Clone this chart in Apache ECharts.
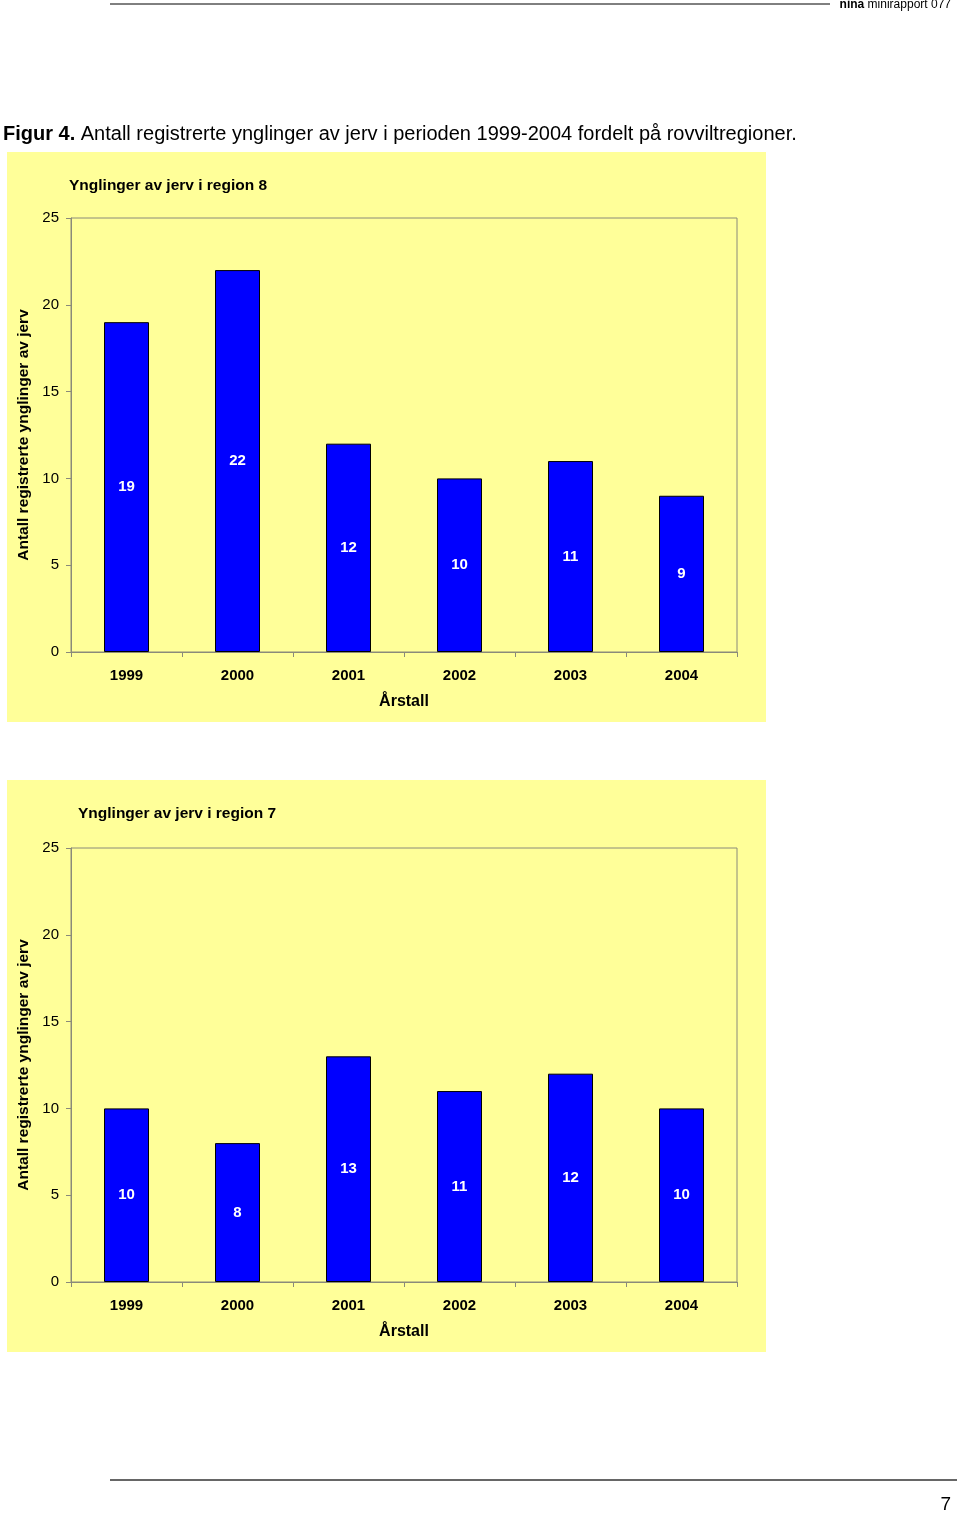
<!DOCTYPE html>
<html>
<head>
<meta charset="utf-8">
<script src="https://cdn.jsdelivr.net/npm/echarts@6/dist/echarts.min.js"></script>
<style>
  html, body { margin: 0; padding: 0; background: #fff; }
  #chart { width: 960px; height: 1516px; }
</style>
</head>
<body>
<div id="chart"></div>
<script>
// data
const years = ['1999', '2000', '2001', '2002', '2003', '2004']
const region8 = [19, 22, 12, 10, 11, 9]
const region7 = [10, 8, 13, 11, 12, 10]
const titles = ['Ynglinger av jerv i region 8', 'Ynglinger av jerv i region 7']
const yName = 'Antall registrerte ynglinger av jerv'
const xName = 'Årstall'

const FONT = '"Liberation Sans", Arial, sans-serif'
const YELLOW = '#FFFF99'
const AXIS_GREY = '#8a8a7a'

const chart = echarts.init(document.getElementById('chart'))

// two panels, second one shifted down
const panelTops = [218, 848]

function makeXAxis(i) {
    return {
        type: 'category',
        gridIndex: i,
        data: years,
        name: xName,
        nameLocation: 'middle',
        nameGap: 42,
        nameTextStyle: { color: '#000', fontFamily: FONT, fontWeight: 'bold', fontSize: 16 },
        axisLine: { lineStyle: { color: AXIS_GREY, width: 1 } },
        axisTick: { show: true, length: 5, lineStyle: { color: AXIS_GREY } },
        axisLabel: { color: '#000', fontFamily: FONT, fontWeight: 'bold', fontSize: 15, margin: 16 }
    }
}

function makeYAxis(i) {
    return {
        type: 'value',
        gridIndex: i,
        min: 0,
        max: 25,
        interval: 5,
        name: yName,
        nameLocation: 'middle',
        nameGap: 33,
        nameTextStyle: { color: '#000', fontFamily: FONT, fontWeight: 'bold', fontSize: 15.5 },
        axisLine: { show: true, lineStyle: { color: AXIS_GREY, width: 1 } },
        axisTick: { show: true, length: 5, lineStyle: { color: AXIS_GREY } },
        axisLabel: { color: '#000', fontFamily: FONT, fontSize: 15, margin: 12 },
        splitLine: { show: false }
    }
}

function makeSeries(i, data) {
    return {
        type: 'bar',
        xAxisIndex: i,
        yAxisIndex: i,
        data: data,
        barWidth: 45,
        itemStyle: { color: '#0000FF', borderColor: '#000', borderWidth: 1 },
        label: {
            show: true,
            position: 'inside',
            color: '#fff',
            fontFamily: FONT,
            fontWeight: 'bold',
            fontSize: 15
        },
        silent: true,
        animation: false
    }
}

const titleStyle = { fontFamily: FONT, fontWeight: 'bold', fontSize: 15.5, color: '#000' }

const option = {
    animation: false,
    backgroundColor: '#fff',
    title: [
        { text: titles[0], left: 69, top: 178, padding: 0, textStyle: titleStyle },
        { text: titles[1], left: 78, top: 806, padding: 0, textStyle: titleStyle }
    ],
    graphic: [
        // yellow chart panels
        { type: 'rect', z: -10, shape: { x: 7, y: 152, width: 759, height: 570 }, style: { fill: YELLOW } },
        { type: 'rect', z: -10, shape: { x: 7, y: 780, width: 759, height: 572 }, style: { fill: YELLOW } },
        // header
        { type: 'line', shape: { x1: 110, y1: 4, x2: 830, y2: 4 }, style: { stroke: '#000', lineWidth: 1 } },
        {
            type: 'text', right: 9, top: -1,
            style: {
                text: '{b|nina} minirapport 077',
                rich: { b: { fontWeight: 'bold', fontFamily: FONT, fontSize: 12, fill: '#000' } },
                fontFamily: FONT, fontSize: 12, fill: '#000'
            }
        },
        // caption
        {
            type: 'text', left: 3, top: 124,
            style: {
                text: '{b|Figur 4.} Antall registrerte ynglinger av jerv i perioden 1999-2004 fordelt på rovviltregioner.',
                rich: { b: { fontWeight: 'bold', fontFamily: FONT, fontSize: 20, fill: '#000' } },
                fontFamily: FONT, fontSize: 20, fill: '#000'
            }
        },
        // footer
        { type: 'line', shape: { x1: 110, y1: 1480, x2: 957, y2: 1480 }, style: { stroke: '#333', lineWidth: 1.5 } },
        { type: 'text', right: 9, top: 1495, style: { text: '7', fontFamily: FONT, fontSize: 19, fill: '#000' } }
    ],
    grid: panelTops.map(t => ({
        left: 71, top: t, width: 666, height: 434,
        show: true, borderColor: AXIS_GREY, borderWidth: 1, backgroundColor: 'transparent'
    })),
    xAxis: [makeXAxis(0), makeXAxis(1)],
    yAxis: [makeYAxis(0), makeYAxis(1)],
    series: [makeSeries(0, region8), makeSeries(1, region7)]
}

chart.setOption(option)
</script>
</body>
</html>
